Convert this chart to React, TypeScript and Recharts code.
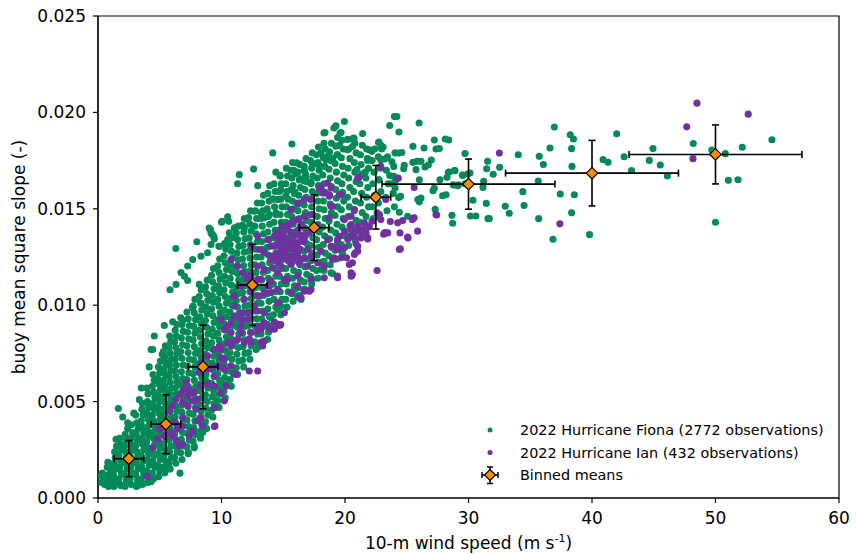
import React from 'react';
import { ComposedChart, Scatter, XAxis, YAxis, ErrorBar, ReferenceArea } from 'recharts';

const FONT = '"DejaVu Sans", "Liberation Sans", Arial, sans-serif';
const GREEN = '#048a57';
const PURPLE = '#7031a0';
const ORANGE = '#ff8c00';

const xTicks = [0, 10, 20, 30, 40, 50, 60];
const yTicks = [0, 0.005, 0.01, 0.015, 0.02, 0.025];
const legendLabels = [
  '2022 Hurricane Fiona (2772 observations)',
  '2022 Hurricane Ian (432 observations)',
  'Binned means',
];

// Binned means
const binX = [2.5, 5.5, 8.5, 12.5, 17.5, 22.5, 30, 40, 50];
const binY = [0.00204, 0.00383, 0.0068, 0.01105, 0.01402, 0.0156, 0.01628, 0.01685, 0.01782];
const binXErr = [1.2, 1.2, 1.2, 1.2, 1.2, 1.2, 7, 7, 7];
const binYErr = [0.00094, 0.00153, 0.00217, 0.0021, 0.0017, 0.00165, 0.0013, 0.0017, 0.00153];

// Fiona: dense core of the cloud (estimated)
const fionaCore: [number, number][] = [
  [0.3,.0008],[0.45,.0011],[0.55,.0007],[0.35,.0013],[0.6,.0010],
  [0.85,.0006],[0.95,.0009],[0.8,.0012],[1.0,.0015],[0.9,.0018],[1.05,.0007],[0.75,.0016],
  [1.3,.0006],[1.4,.0009],[1.25,.0012],[1.45,.0015],[1.3,.0018],[1.4,.0021],[1.35,.0024],[1.5,.0027],
  [1.8,.0007],[1.7,.0010],[1.9,.0013],[1.75,.0016],[1.85,.0019],[1.7,.0022],[1.9,.0025],[1.8,.0028],[1.75,.0031],
  [2.2,.0006],[2.3,.0009],[2.15,.0012],[2.35,.0015],[2.2,.0018],[2.3,.0021],[2.25,.0024],[2.15,.0027],[2.3,.0030],[2.2,.0033],
  [2.7,.0007],[2.6,.0010],[2.8,.0013],[2.65,.0016],[2.75,.0019],[2.6,.0022],[2.8,.0025],[2.7,.0028],[2.65,.0031],[2.8,.0034],[2.7,.0038],
  [3.1,.0006],[3.2,.0009],[3.05,.0012],[3.25,.0015],[3.1,.0018],[3.2,.0021],[3.15,.0024],[3.05,.0027],[3.2,.0030],[3.1,.0033],[3.25,.0036],[3.15,.0039],[3.05,.0043],
  [3.6,.0007],[3.5,.0010],[3.7,.0013],[3.55,.0016],[3.65,.0019],[3.5,.0022],[3.7,.0025],[3.6,.0028],[3.55,.0031],[3.7,.0034],[3.6,.0037],[3.5,.0040],[3.65,.0043],[3.55,.0046],[3.6,.0049],
  [4.0,.0008],[4.1,.0011],[3.95,.0014],[4.15,.0017],[4.0,.0020],[4.1,.0023],[4.05,.0026],[3.95,.0029],[4.1,.0032],[4.0,.0035],[4.15,.0038],[4.05,.0041],[3.95,.0044],[4.1,.0047],[4.0,.0050],[4.05,.0054],[3.95,.0057],
  [4.5,.0010],[4.4,.0013],[4.6,.0016],[4.45,.0019],[4.55,.0022],[4.4,.0025],[4.6,.0028],[4.5,.0031],[4.45,.0034],[4.6,.0037],[4.5,.0040],[4.4,.0043],[4.55,.0046],[4.45,.0049],[4.6,.0052],[4.5,.0055],[4.4,.0058],[4.55,.0061],[4.45,.0064],
  [4.9,.0011],[5.0,.0014],[4.85,.0017],[5.05,.0020],[4.9,.0023],[5.0,.0026],[4.95,.0029],[4.85,.0032],[5.0,.0035],[4.9,.0038],[5.05,.0041],[4.95,.0044],[4.85,.0047],[5.0,.0050],[4.9,.0053],[5.05,.0056],[4.95,.0059],[4.85,.0062],[5.0,.0065],[4.9,.0068],[5.05,.0071],
  [5.4,.0013],[5.3,.0016],[5.5,.0019],[5.35,.0022],[5.45,.0025],[5.3,.0028],[5.5,.0031],[5.4,.0034],[5.35,.0037],[5.5,.0040],[5.4,.0043],[5.3,.0046],[5.45,.0049],[5.35,.0052],[5.5,.0055],[5.4,.0058],[5.3,.0061],[5.45,.0064],[5.35,.0067],[5.5,.0070],[5.4,.0073],[5.3,.0076],[5.45,.0079],
  [5.85,.0015],[5.75,.0018],[5.95,.0021],[5.8,.0024],[5.9,.0027],[5.75,.0030],[5.95,.0033],[5.85,.0036],[5.8,.0039],[5.95,.0042],[5.85,.0045],[5.75,.0048],[5.9,.0051],[5.8,.0054],[5.95,.0057],[5.85,.0060],[5.75,.0063],[5.9,.0066],[5.8,.0069],[5.95,.0072],[5.85,.0075],[5.75,.0078],[5.9,.0081],[5.8,.0084],
  [6.3,.0018],[6.2,.0021],[6.4,.0024],[6.25,.0027],[6.35,.0030],[6.2,.0033],[6.4,.0036],[6.3,.0039],[6.25,.0042],[6.4,.0045],[6.3,.0048],[6.2,.0051],[6.35,.0054],[6.25,.0057],[6.4,.0060],[6.3,.0063],[6.2,.0066],[6.35,.0069],[6.25,.0072],[6.4,.0075],[6.3,.0078],[6.2,.0081],[6.35,.0084],[6.25,.0087],[6.4,.0090],
  [6.8,.0020],[6.7,.00235],[6.9,.0027],[6.75,.00305],[6.85,.0034],[6.7,.00375],[6.9,.0041],[6.8,.00445],[6.75,.0048],[6.9,.00515],[6.8,.0055],[6.7,.00585],[6.85,.0062],[6.75,.00655],[6.9,.0069],[6.8,.00725],[6.7,.0076],[6.85,.00795],[6.75,.0083],[6.9,.00865],[6.8,.0090],[6.7,.00935],
  [7.3,.0023],[7.2,.00265],[7.4,.0030],[7.25,.00335],[7.35,.0037],[7.2,.00405],[7.4,.0044],[7.3,.00475],[7.25,.0051],[7.4,.00545],[7.3,.0058],[7.2,.00615],[7.35,.0065],[7.25,.00685],[7.4,.0072],[7.3,.00755],[7.2,.0079],[7.35,.00825],[7.25,.0086],[7.4,.00895],[7.3,.0093],[7.2,.00965],
  [7.8,.0026],[7.7,.00295],[7.9,.0033],[7.75,.00365],[7.85,.0040],[7.7,.00435],[7.9,.0047],[7.8,.00505],[7.75,.0054],[7.9,.00575],[7.8,.0061],[7.7,.00645],[7.85,.0068],[7.75,.00715],[7.9,.0075],[7.8,.00785],[7.7,.0082],[7.85,.00855],[7.75,.0089],[7.9,.00925],[7.8,.0096],[7.7,.00995],[7.85,.0103],
  [8.3,.0031],[8.2,.00345],[8.4,.0038],[8.25,.00415],[8.35,.0045],[8.2,.00485],[8.4,.0052],[8.3,.00555],[8.25,.0059],[8.4,.00625],[8.3,.0066],[8.2,.00695],[8.35,.0073],[8.25,.00765],[8.4,.0080],[8.3,.00835],[8.2,.0087],[8.35,.00905],[8.25,.0094],[8.4,.00975],[8.3,.0101],[8.2,.01045],[8.35,.0108],
  [8.8,.0036],[8.7,.00395],[8.9,.0043],[8.75,.00465],[8.85,.0050],[8.7,.00535],[8.9,.0057],[8.8,.00605],[8.75,.0064],[8.9,.00675],[8.8,.0071],[8.7,.00745],[8.85,.0078],[8.75,.00815],[8.9,.0085],[8.8,.00885],[8.7,.0092],[8.85,.00955],[8.75,.0099],[8.9,.01025],[8.8,.0106],[8.7,.01095],[8.85,.0113],
  [9.3,.0042],[9.2,.00455],[9.4,.0049],[9.25,.00525],[9.35,.0056],[9.2,.00595],[9.4,.0063],[9.3,.00665],[9.25,.0070],[9.4,.00735],[9.3,.0077],[9.2,.00805],[9.35,.0084],[9.25,.00875],[9.4,.0091],[9.3,.00945],[9.2,.0098],[9.35,.01015],[9.25,.0105],[9.4,.01085],[9.3,.0112],[9.2,.01155],[9.35,.0119],
  [9.8,.0047],[9.7,.00505],[9.9,.0054],[9.75,.00575],[9.85,.0061],[9.7,.00645],[9.9,.0068],[9.8,.00715],[9.75,.0075],[9.9,.00785],[9.8,.0082],[9.7,.00855],[9.85,.0089],[9.75,.00925],[9.9,.0096],[9.8,.00995],[9.7,.0103],[9.85,.01065],[9.75,.0110],[9.9,.01135],[9.8,.0117],[9.7,.01205],[9.85,.0124],
  [10.3,.0052],[10.2,.00555],[10.4,.0059],[10.25,.00625],[10.35,.0066],[10.2,.00695],[10.4,.0073],[10.3,.00765],[10.25,.0080],[10.4,.00835],[10.3,.0087],[10.2,.00905],[10.35,.0094],[10.25,.00975],[10.4,.0101],[10.3,.01045],[10.2,.0108],[10.35,.01115],[10.25,.0115],[10.4,.01185],[10.3,.0122],[10.2,.01255],[10.35,.0129],[10.25,.0132],
  [10.8,.0058],[10.7,.00615],[10.9,.0065],[10.75,.00685],[10.85,.0072],[10.7,.00755],[10.9,.0079],[10.8,.00825],[10.75,.0086],[10.9,.00895],[10.8,.0093],[10.7,.00965],[10.85,.0100],[10.75,.01035],[10.9,.0107],[10.8,.01105],[10.7,.0114],[10.85,.01175],[10.75,.0121],[10.9,.01245],[10.8,.0128],[10.7,.01315],[10.85,.0135],
  [11.3,.0064],[11.2,.00675],[11.4,.0071],[11.25,.00745],[11.35,.0078],[11.2,.00815],[11.4,.0085],[11.3,.00885],[11.25,.0092],[11.4,.00955],[11.3,.0099],[11.2,.01025],[11.35,.0106],[11.25,.01095],[11.4,.0113],[11.3,.01165],[11.2,.0120],[11.35,.01235],[11.25,.0127],[11.4,.01305],[11.3,.0134],[11.2,.01375],[11.35,.0141],
  [11.8,.0068],[11.7,.00715],[11.9,.0075],[11.75,.00785],[11.85,.0082],[11.7,.00855],[11.9,.0089],[11.8,.00925],[11.75,.0096],[11.9,.00995],[11.8,.0103],[11.7,.01065],[11.85,.0110],[11.75,.01135],[11.9,.0117],[11.8,.01205],[11.7,.0124],[11.85,.01275],[11.75,.0131],[11.9,.01345],[11.8,.0138],[11.7,.01415],[11.85,.0145],
  [12.3,.0072],[12.2,.00755],[12.4,.0079],[12.25,.00825],[12.35,.0086],[12.2,.00895],[12.4,.0093],[12.3,.00965],[12.25,.0100],[12.4,.01035],[12.3,.0107],[12.2,.01105],[12.35,.0114],[12.25,.01175],[12.4,.0121],[12.3,.01245],[12.2,.0128],[12.35,.01315],[12.25,.0135],[12.4,.01385],[12.3,.0142],[12.2,.01455],[12.35,.0149],
  [12.8,.0077],[12.7,.0081],[12.9,.0085],[12.75,.0089],[12.85,.0093],[12.7,.0097],[12.9,.0101],[12.8,.0105],[12.75,.0109],[12.9,.0113],[12.8,.0117],[12.7,.0121],[12.85,.0125],[12.75,.0129],[12.9,.0133],[12.8,.0137],[12.7,.0141],[12.85,.0145],[12.75,.0149],[12.9,.0153],
  [13.3,.0081],[13.2,.0085],[13.4,.0089],[13.25,.0093],[13.35,.0097],[13.2,.0101],[13.4,.0105],[13.3,.0109],[13.25,.0113],[13.4,.0117],[13.3,.0121],[13.2,.0125],[13.35,.0129],[13.25,.0133],[13.4,.0137],[13.3,.0141],[13.2,.0145],[13.35,.0149],[13.25,.0153],[13.4,.0157],
  [13.8,.0086],[13.7,.0090],[13.9,.0094],[13.75,.0098],[13.85,.0102],[13.7,.0106],[13.9,.0110],[13.8,.0114],[13.75,.0118],[13.9,.0122],[13.8,.0126],[13.7,.0130],[13.85,.0134],[13.75,.0138],[13.9,.0142],[13.8,.0146],[13.7,.0150],[13.85,.0154],[13.75,.0158],[13.9,.0162],
  [14.3,.0091],[14.2,.0095],[14.4,.0099],[14.25,.0103],[14.35,.0107],[14.2,.0111],[14.4,.0115],[14.3,.0119],[14.25,.0123],[14.4,.0127],[14.3,.0131],[14.2,.0135],[14.35,.0139],[14.25,.0143],[14.4,.0147],[14.3,.0151],[14.2,.0155],[14.35,.0159],[14.25,.0163],
  [14.8,.0095],[14.7,.0099],[14.9,.0103],[14.75,.0107],[14.85,.0111],[14.7,.0115],[14.9,.0119],[14.8,.0123],[14.75,.0127],[14.9,.0131],[14.8,.0135],[14.7,.0139],[14.85,.0143],[14.75,.0147],[14.9,.0151],[14.8,.0155],[14.7,.0159],[14.85,.0163],[14.75,.0167],
  [15.3,.0099],[15.2,.0103],[15.4,.0107],[15.25,.0111],[15.35,.0115],[15.2,.0119],[15.4,.0123],[15.3,.0127],[15.25,.0131],[15.4,.0135],[15.3,.0139],[15.2,.0143],[15.35,.0147],[15.25,.0151],[15.4,.0155],[15.3,.0159],[15.2,.0163],[15.35,.0167],[15.25,.0171],
  [15.8,.0102],[15.7,.0106],[15.9,.0110],[15.75,.0114],[15.85,.0118],[15.7,.0122],[15.9,.0126],[15.8,.0130],[15.75,.0134],[15.9,.0138],[15.8,.0142],[15.7,.0146],[15.85,.0150],[15.75,.0154],[15.9,.0158],[15.8,.0162],[15.7,.0166],[15.85,.0170],[15.75,.0174],
  [16.3,.0105],[16.2,.0109],[16.4,.0113],[16.25,.0117],[16.35,.0121],[16.2,.0125],[16.4,.0129],[16.3,.0133],[16.25,.0137],[16.4,.0141],[16.3,.0145],[16.2,.0149],[16.35,.0153],[16.25,.0157],[16.4,.0161],[16.3,.0165],[16.2,.0169],[16.35,.0173],
  [16.8,.0108],[16.7,.0112],[16.9,.0116],[16.75,.0120],[16.85,.0124],[16.7,.0128],[16.9,.0132],[16.8,.0136],[16.75,.0140],[16.9,.0144],[16.8,.0148],[16.7,.0152],[16.85,.0156],[16.75,.0160],[16.9,.0164],[16.8,.0168],[16.7,.0172],[16.85,.0176],
  [17.3,.0111],[17.2,.0115],[17.4,.0119],[17.25,.0123],[17.35,.0127],[17.2,.0131],[17.4,.0135],[17.3,.0139],[17.25,.0143],[17.4,.0147],[17.3,.0151],[17.2,.0155],[17.35,.0159],[17.25,.0163],[17.4,.0167],[17.3,.0171],[17.2,.0175],[17.35,.0179],
  [17.8,.0114],[17.7,.0118],[17.9,.0122],[17.75,.0126],[17.85,.0130],[17.7,.0134],[17.9,.0138],[17.8,.0142],[17.75,.0146],[17.9,.0150],[17.8,.0154],[17.7,.0158],[17.85,.0162],[17.75,.0166],[17.9,.0170],[17.8,.0174],[17.7,.0178],[17.85,.0182],
  [18.3,.0118],[18.2,.01225],[18.4,.0127],[18.25,.01315],[18.35,.0136],[18.2,.01405],[18.4,.0145],[18.3,.01495],[18.25,.0154],[18.4,.01585],[18.3,.0163],[18.2,.01675],[18.35,.0172],[18.25,.01765],[18.4,.0181],[18.3,.0184],
  [18.8,.0121],[18.7,.01255],[18.9,.0130],[18.75,.01345],[18.85,.0139],[18.7,.01435],[18.9,.0148],[18.8,.01525],[18.75,.0157],[18.9,.01615],[18.8,.0166],[18.7,.01705],[18.85,.0175],[18.75,.01795],[18.9,.0184],
  [19.3,.0124],[19.2,.01285],[19.4,.0133],[19.25,.01375],[19.35,.0142],[19.2,.01465],[19.4,.0151],[19.3,.01555],[19.25,.0160],[19.4,.01645],[19.3,.0169],[19.2,.01735],[19.35,.0178],[19.25,.01825],[19.4,.0187],
  [19.8,.0127],[19.7,.01315],[19.9,.0136],[19.75,.01405],[19.85,.0145],[19.7,.01495],[19.9,.0154],[19.8,.01585],[19.75,.0163],[19.9,.01675],[19.8,.0172],[19.7,.01765],[19.85,.0181],[19.75,.01855],
  [20.3,.0131],[20.2,.0136],[20.4,.0141],[20.25,.0146],[20.35,.0151],[20.2,.0156],[20.4,.0161],[20.3,.0166],[20.25,.0171],[20.4,.0176],[20.3,.0181],[20.2,.0186],
  [20.8,.0134],[20.7,.0139],[20.9,.0144],[20.75,.0149],[20.85,.0154],[20.7,.0159],[20.9,.0164],[20.8,.0169],[20.75,.0174],[20.9,.0179],[20.8,.0184],
  [21.3,.0138],[21.2,.0143],[21.4,.0148],[21.25,.0153],[21.35,.0158],[21.2,.0163],[21.4,.0168],[21.3,.0173],[21.25,.0178],[21.4,.0183],
  [21.8,.0141],[21.7,.0146],[21.9,.0151],[21.75,.0156],[21.85,.0161],[21.7,.0166],[21.9,.0171],[21.8,.0176],[21.75,.0181],
  [22.3,.0145],[22.2,.0151],[22.4,.0157],[22.25,.0163],[22.35,.0169],[22.2,.0175],[22.4,.0181],
  [22.8,.0147],[22.7,.0153],[22.9,.0159],[22.75,.0165],[22.85,.0171],[22.7,.0177],[22.9,.0183],
  [23.4,.0149],[23.3,.0156],[23.5,.0163],[23.35,.0170],[23.45,.0177],
  [24.0,.0151],[23.9,.0158],[24.1,.0165],[23.95,.0172],[24.05,.0179],
];

// Fiona: individually readable points on the fringes of the cloud
const fionaEdge: [number, number][] = [
  [0.24,.00115],[0.46,.0009],[0.79,.00072],[1.86,.00064],[3.21,.00064],[4.29,.00084],[5.64,.0015],[6.64,.00129],[7.31,.00237],[7.8,.00268],
  [0.8,.00185],[1.46,.00305],[1.65,.00464],[2.0,.0042],[2.4,.0036],[2.4,.0039],[2.9,.0044],[3.35,.0051],[3.5,.0057],[4.15,.0068],[4.3,.0077],[4.43,.0077],
  [5.2,.00745],[4.56,.0084],[5.37,.00895],[5.9,.0081],[6.05,.00914],[6.86,.0092],[7.67,.0099],[8.34,.0101],[7.67,.00987],
  [5.83,.0108],[6.3,.01294],[8.0,.01329],[7.26,.01128],[7.0,.0115],[8.2,.01108],[9.0,.0140],[9.15,.01375],[9.37,.01358],[9.8,.01306],
  [10.04,.01435],[10.5,.01458],[11.3,.0163],[11.44,.01677],[12.6,.01706],[12.93,.0162],[14.15,.0179],[14.4,.0169],[14.74,.01672],[14.8,.016],
  [15.7,.01836],[16.1,.01738],[16.7,.017],[16.84,.0166],[17.5,.01734],[18.06,.01789],[18.3,.01893],[19.1,.01919],[19.27,.0193],[19.95,.01953],
  [19.6,.01893],[21.43,.0189],[20.57,.01862],[19.55,.01829],[18.6,.01772],[19.0,.01761],[19.4,.0178],[20.2,.01806],[20.6,.01823],[18.46,.01755],
  [17.87,.01729],[17.38,.01729],[15.63,.017],[16.0,.01682],[16.4,.01655],[16.66,.01646],[17.25,.01637],[15.63,.016],[15.95,.01585],[15.2,.01565],
  [14.55,.01548],[15.76,.01496],[16.16,.01522],[14.41,.01479],[13.87,.0147],[13.47,.01453],[13.2,.01479],[12.66,.01487],[12.12,.01444],[11.85,.01401],
  [11.04,.01401],[10.58,.01435],[10.63,.01375],[10.5,.0134],[9.82,.01306],[9.15,.01315],[8.88,.01272],[8.34,.01254],[7.67,.01237],[7.26,.01203],
  [6.72,.01169],[6.32,.01108],[21.97,.01806],[22.9,.01755],[18.38,.01896],[19.68,.01896],[20.7,.01867],[22.72,.01844],[21.88,.01758],[14.14,.01551],
  [9.1,.01392],[9.28,.01366],[9.42,.01344],[10.0,.0143],
  [8.6,.0053],[9.42,.00538],[9.96,.00599],[10.23,.00581],[10.5,.00659],[11.04,.0065],[12.93,.0078],[13.2,.00806],[13.74,.00823],[13.74,.009],
  [14.0,.00935],[14.55,.00978],[14.8,.00995],[13.87,.00944],[14.28,.00909],[14.74,.00897],[13.2,.00892],[16.16,.01047],[16.44,.0103],[15.9,.01082],
  [16.7,.01082],[17.38,.01134],[18.06,.01185],[19.0,.01163],[18.87,.01168],[18.3,.01228],[8.48,.0034],
];

// Fiona: sparse high-wind points
const fionaSparse: [number, number][] = [
  [24.0,.01979],[24.2,.01979],[23.62,.01932],[26.0,.01945],[24.37,.01898],[20.73,.01865],[22.75,.01846],[22.16,.01798],[22.97,.0181],[23.08,.0182],
  [25.5,.01824],[26.4,.01815],[27.23,.01857],[28.12,.01862],[28.4,.01857],[27.37,.0181],[27.64,.01813],[29.72,.01787],[24.35,.01789],[24.6,.01792],
  [23.43,.01765],[23.19,.01758],[21.84,.01751],[23.8,.01744],[24.8,.01725],[24.75,.01708],[25.5,.01741],[25.83,.01746],[26.15,.01746],[26.99,.01753],
  [26.48,.01717],[26.75,.01727],[25.75,.01703],[20.97,.01703],[21.65,.01691],[23.94,.01668],[23.62,.01673],[24.32,.01658],[22.75,.01651],[26.02,.01651],
  [27.69,.01651],[27.23,.01606],[27.13,.01594],[28.45,.01691],[28.9,.01698],[29.55,.01673],[29.93,.0168],[29.18,.01624],[29.72,.0163],[27.3,.01497],
  [24.4,.01482],[25.07,.01461],[24.35,.01558],[24.5,.01565],[26.02,.01536],[26.15,.01556],[25.9,.01548],[23.75,.0163],[24.05,.01608],
  [36.95,.01924],[38.24,.01884],[38.5,.01862],[42.0,.01889],[36.6,.01815],[38.35,.01812],[34.03,.0178],[35.73,.01772],[36.06,.0173],[38.38,.0172],
  [40.9,.01755],[41.3,.01741],[42.6,.0177],[43.2,.01699],[35.65,.01644],[34.4,.01589],[37.43,.01577],[38.57,.01573],[34.5,.01517],[32.98,.01513],
  [33.3,.01477],[38.35,.01479],[35.68,.01449],[36.84,.01342],[39.8,.01366],[31.55,.01746],[31.47,.01708],[32.52,.01715],[32.0,.01679],[31.23,.01643],
  [31.17,.01611],[30.36,.01544],[31.44,.01528],[30.15,.01463],[30.6,.01463],[31.58,.01449],[31.68,.01449],[28.66,.01466],[28.72,.01425],[28.88,.01699],
  [28.37,.01689],[28.26,.01663],[29.5,.01675],[29.1,.0162],[28.77,.01624],[28.18,.01573],[27.9,.01568],[30.12,.01686],
  [44.94,.01813],[44.64,.01751],[45.53,.01727],[46.1,.0167],[48.2,.01839],[49.7,.01805],[50.8,.01786],[52.17,.01819],[54.57,.01858],[51.04,.01648],
  [51.82,.01651],[50.0,.0143],
];

// Ian points
const ianPoints: [number, number][] = [
  [48.5,.02048],[52.65,.01991],[47.67,.01925],[48.18,.0176],[32.5,.01789],[37.4,.01422],
  [27.42,.01468],[25.45,.01444],[25.6,.01453],[24.67,.01439],[24.27,.01427],[25.88,.01384],[25.1,.01349],[24.45,.01375],[23.67,.01434],[24.48,.01292],
  [24.27,.0166],[25.6,.01611],[21.16,.01665],[23.3,.01375],[23.46,.01375],[21.84,.01344],[21.38,.01392],[21.03,.01389],[20.49,.01358],[20.89,.0132],
  [21.56,.01427],[22.19,.01435],[22.73,.01461],[22.6,.01479],[22.9,.0172],[27.37,.0147],[25.47,.01449],[23.13,.01368],[25.07,.01354],[24.4,.01289],
  [20.49,.01418],[21.03,.01409],[21.97,.01406],[21.7,.01375],[20.76,.01358],[20.22,.01341],[21.3,.01349],[19.4,.01341],[19.55,.01298],[18.87,.01306],
  [21.03,.01306],[21.03,.0128],[20.49,.01392],[19.95,.01384],
  [12.25,.00659],[12.93,.00659],[11.17,.00642],[13.2,.00806],[13.33,.00788],[14.0,.00875],[14.68,.009],[14.28,.00913],[16.44,.01039],[17.25,.01082],
  [17.1,.01073],[19.4,.01142],[20.6,.01159],[20.35,.01211],[20.6,.0122],[20.83,.01272],[19.1,.01246],[19.4,.01289],[19.68,.01246],[20.13,.01246],
  [20.5,.0115],[16.3,.01039],[13.87,.00884],[14.68,.00895],[13.2,.00875],[12.93,.00866],[11.58,.00858],[12.39,.00806],[13.47,.00814],[14.8,.009],
  [11.04,.00642],[10.23,.0072],[10.77,.00685],[10.1,.00676],
  [4.0,.00112],[4.43,.00262],[4.83,.00305],[4.96,.00357],[5.16,.00374],[5.77,.00452],[6.05,.00478],[6.32,.00512],[6.66,.00538],[7.0,.00564],
  [6.58,.00271],[6.86,.0028],[7.39,.00322],[7.67,.00348],[8.48,.00374],[8.07,.004],[9.42,.00371],[9.42,.00469],[10.23,.00504],[9.96,.00547],
  [10.36,.00581],[8.34,.00418],[7.94,.00461],[7.26,.00478],[6.86,.00495],[7.26,.0053],[7.8,.00547],[8.34,.00581],[8.88,.0059],[9.42,.00581],
  [7.67,.00504],[8.07,.00512],[7.39,.00564],[7.13,.00599],[8.2,.00651],[8.88,.00668],[9.15,.00676],[8.34,.00702],[8.88,.00737],[9.42,.00771],
  [9.82,.00788],[9.96,.00728],[9.69,.00685],[10.23,.00668],[9.42,.00633],[10.5,.00806],[11.04,.00814],[11.85,.00806],[12.25,.00823],[5.91,.0034],
  [6.45,.00357],[6.18,.00392],[6.86,.00418],[6.86,.00374],[5.5,.00374],[5.37,.00322],[6.05,.00322],[6.32,.00297],[9.47,.00374],[9.47,.00469],
  [18.06,.016],[18.32,.01582],[18.73,.01573],[19.54,.01573],[21.03,.0166],[20.76,.01496],[19.95,.01444],[19.54,.01358],[18.6,.0134],[19.27,.01306],
  [19.95,.01298],[20.76,.01263],[20.49,.01168],[21.84,.01349],[21.16,.01384],[23.19,.01375],[22.9,.01444],[23.3,.01548],[22.6,.0118],
  [15.63,.01496],[16.17,.0153],[16.7,.01548],[18.06,.01617],[18.6,.01634],[18.87,.01608],
  [14.55,.01375],[15.09,.01409],[15.63,.01427],[16.17,.01444],[16.7,.01461],[17.25,.0147],
  [14.0,.01306],[14.55,.01323],[15.09,.0134],[15.63,.01306],[16.17,.01323],[16.7,.0134],[17.1,.01375],[17.79,.01409],
  [13.47,.01272],[14.0,.01254],[14.55,.01237],[15.09,.01263],[15.63,.01254],[16.17,.01272],[16.7,.01246],[17.25,.01254],[18.06,.0128],
  [12.93,.01202],[13.47,.01185],[14.14,.01194],[14.82,.01202],[15.63,.01211],[16.3,.0122],[16.97,.01202],[17.79,.0122],[18.32,.01202],[19.0,.01237],
  [12.39,.01151],[13.2,.01134],[14.0,.01125],[15.09,.01134],[16.17,.01151],[17.25,.01134],[18.32,.01142],[19.4,.01151],
  [11.58,.01099],[12.39,.01073],[13.47,.01065],[14.55,.01082],[15.63,.01065],[16.7,.01073],
  [10.77,.01237],[11.31,.01202],[11.71,.01168],[12.12,.01134],[13.06,.01289],[12.39,.01306],
  [10.23,.00875],[10.77,.00909],[11.58,.00926],[12.12,.00961],[12.93,.0097],[11.04,.00996],[11.85,.0103],[12.93,.01047],[14.0,.01065],[14.55,.01013],
  [15.09,.00961],[13.47,.00909],[14.28,.00875],[12.39,.00858],[11.31,.00823],[10.77,.00788],[9.96,.00771],
  [12.93,.01358],[13.74,.0134],[14.82,.01358],[14.28,.01306],[15.36,.01323],[15.9,.01289],[14.82,.01254],[15.63,.01219],[16.44,.01237],[14.0,.01237],
  [13.47,.01185],[14.55,.01168],[15.36,.01134],[16.17,.01099],
  [12.39,.01082],[13.06,.01047],[12.66,.00996],[13.47,.00961],[12.12,.00926],[12.93,.00892],[11.58,.00961],[11.04,.01047],[12.12,.01151],[12.93,.01134],
  [13.74,.01099],[9.96,.00926],[10.5,.00892],[11.04,.00944],[11.58,.00892],[10.77,.00858],
  [14.2,.0124],[14.5,.0127],[14.8,.0130],[15.1,.0128],[15.4,.0125],[15.7,.0129],[16.0,.0132],[16.3,.0129],[16.6,.0133],[14.4,.0131],
  [14.7,.0134],[15.0,.0137],[15.3,.0134],[15.6,.0138],[15.9,.0136],[16.2,.0139],[16.5,.0142],[14.9,.0141],[15.2,.0124],[15.5,.0133],
  [15.8,.0123],[16.1,.0126],[14.3,.0136],[15.4,.0141],[16.8,.0137],[17.0,.0129],[15.95,.0144],[14.6,.0122],[16.4,.0136],[15.25,.0130],
  [17.92,.01608],[18.19,.01591],[18.73,.01565],[19.0,.01513],[19.68,.01573],[20.49,.01461],[18.73,.01453],[17.25,.01548],[18.19,.01582],[18.87,.01513],
];

const toPts = (arr: [number, number][]) => arr.map(([x, y]) => ({ x, y }));
const fionaData = [...toPts(fionaCore), ...toPts(fionaEdge), ...toPts(fionaSparse)];
const ianData = toPts(ianPoints);
const binData = binX.map((x, i) => ({ x, y: binY[i], xErr: binXErr[i], yErr: binYErr[i] }));

const dot = (color: string) => (p: any) => <circle cx={p.cx} cy={p.cy} r={3.55} fill={color} />;
const diamond = (p: any) => {
  const s = 5.8;
  return (
    <path
      d={`M${p.cx},${p.cy - s}L${p.cx + s},${p.cy}L${p.cx},${p.cy + s}L${p.cx - s},${p.cy}Z`}
      fill={ORANGE}
      stroke="#000"
      strokeWidth={1.2}
    />
  );
};

const tickStyle = { fontFamily: FONT, fontSize: 17, fill: '#000' };
const lineStyle = { stroke: '#000', strokeWidth: 1.2 };

const YLabel = (props: any) => {
  const vb = props.viewBox;
  const cx = vb.x + 25;
  const cy = vb.y + vb.height / 2;
  return (
    <text x={cx} y={cy} transform={`rotate(-90 ${cx} ${cy})`} textAnchor="middle" fontFamily={FONT} fontSize={17} fill="#000">
      buoy mean square slope (-)
    </text>
  );
};

const XLabel = (props: any) => {
  const vb = props.viewBox;
  const cx = vb.x + vb.width / 2;
  const by = vb.y + 51;
  return (
    <text x={cx} y={by} textAnchor="middle" fontFamily={FONT} fontSize={17} fill="#000">
      10-m wind speed (m s<tspan fontSize={11} dy={-7}>-1</tspan><tspan dy={7}>)</tspan>
    </text>
  );
};

const Legend = () => (
  <svg width={857} height={554} style={{ position: 'absolute', left: 0, top: 0, pointerEvents: 'none' }}>
    <circle cx={490} cy={430} r={2.5} fill={GREEN} />
    <text x={520} y={435} fontFamily={FONT} fontSize={14.4} fill="#000">{legendLabels[0]}</text>
    <circle cx={490} cy={452.5} r={2.5} fill={PURPLE} />
    <text x={520} y={457.5} fontFamily={FONT} fontSize={14.4} fill="#000">{legendLabels[1]}</text>
    <g stroke="#000" strokeWidth={1.5}>
      <line x1={482} y1={475} x2={498} y2={475} />
      <line x1={482} y1={472} x2={482} y2={478} />
      <line x1={498} y1={472} x2={498} y2={478} />
      <line x1={490} y1={467} x2={490} y2={483.5} />
      <line x1={487} y1={467} x2={493} y2={467} />
      <line x1={487} y1={483.5} x2={493} y2={483.5} />
    </g>
    <path d="M490,469.5L495.5,475L490,480.5L484.5,475Z" fill={ORANGE} stroke="#000" strokeWidth={1.2} />
    <text x={520} y={480} fontFamily={FONT} fontSize={14.4} fill="#000">{legendLabels[2]}</text>
  </svg>
);

const MARGIN = { top: 16, right: 18, left: 0, bottom: 0 };

export default function App() {
  return (
    <div style={{ position: 'absolute', left: 0, top: 0, width: 857, height: 554, background: '#fff' }}>
      <ComposedChart width={857} height={554} margin={MARGIN}>
        <XAxis
          type="number"
          dataKey="x"
          domain={[0, 60]}
          ticks={xTicks}
          allowDataOverflow
          height={56}
          tick={tickStyle}
          tickSize={5}
          tickMargin={9}
          axisLine={lineStyle}
          tickLine={lineStyle}
          label={<XLabel />}
        />
        <YAxis
          type="number"
          dataKey="y"
          domain={[0, 0.025]}
          ticks={yTicks}
          allowDataOverflow
          width={98}
          tick={tickStyle}
          tickSize={5}
          tickMargin={7}
          tickFormatter={(v: number) => v.toFixed(3)}
          axisLine={lineStyle}
          tickLine={lineStyle}
          label={<YLabel />}
        />
        <ReferenceArea x1={0} x2={60} y1={0} y2={0.025} fill="none" fillOpacity={0} stroke="#000" strokeWidth={1.2} ifOverflow="visible" />
        <Scatter data={fionaData} fill={GREEN} shape={dot(GREEN)} isAnimationActive={false} />
        <Scatter data={ianData} fill={PURPLE} shape={dot(PURPLE)} isAnimationActive={false} />
      </ComposedChart>
      <div style={{ position: 'absolute', left: 0, top: 0 }}>
        <ComposedChart width={857} height={554} margin={MARGIN} style={{ background: 'transparent' }}>
          <XAxis type="number" dataKey="x" domain={[0, 60]} ticks={xTicks} allowDataOverflow height={56} tick={false} axisLine={false} tickLine={false} />
          <YAxis type="number" dataKey="y" domain={[0, 0.025]} ticks={yTicks} allowDataOverflow width={98} tick={false} axisLine={false} tickLine={false} />
          <Scatter data={binData} fill={ORANGE} shape={diamond} isAnimationActive={false}>
            <ErrorBar dataKey="xErr" direction="x" width={3.5} stroke="#000" strokeWidth={1.6} isAnimationActive={false} />
            <ErrorBar dataKey="yErr" direction="y" width={3.5} stroke="#000" strokeWidth={1.6} isAnimationActive={false} />
          </Scatter>
        </ComposedChart>
      </div>
      <Legend />
    </div>
  );
}
